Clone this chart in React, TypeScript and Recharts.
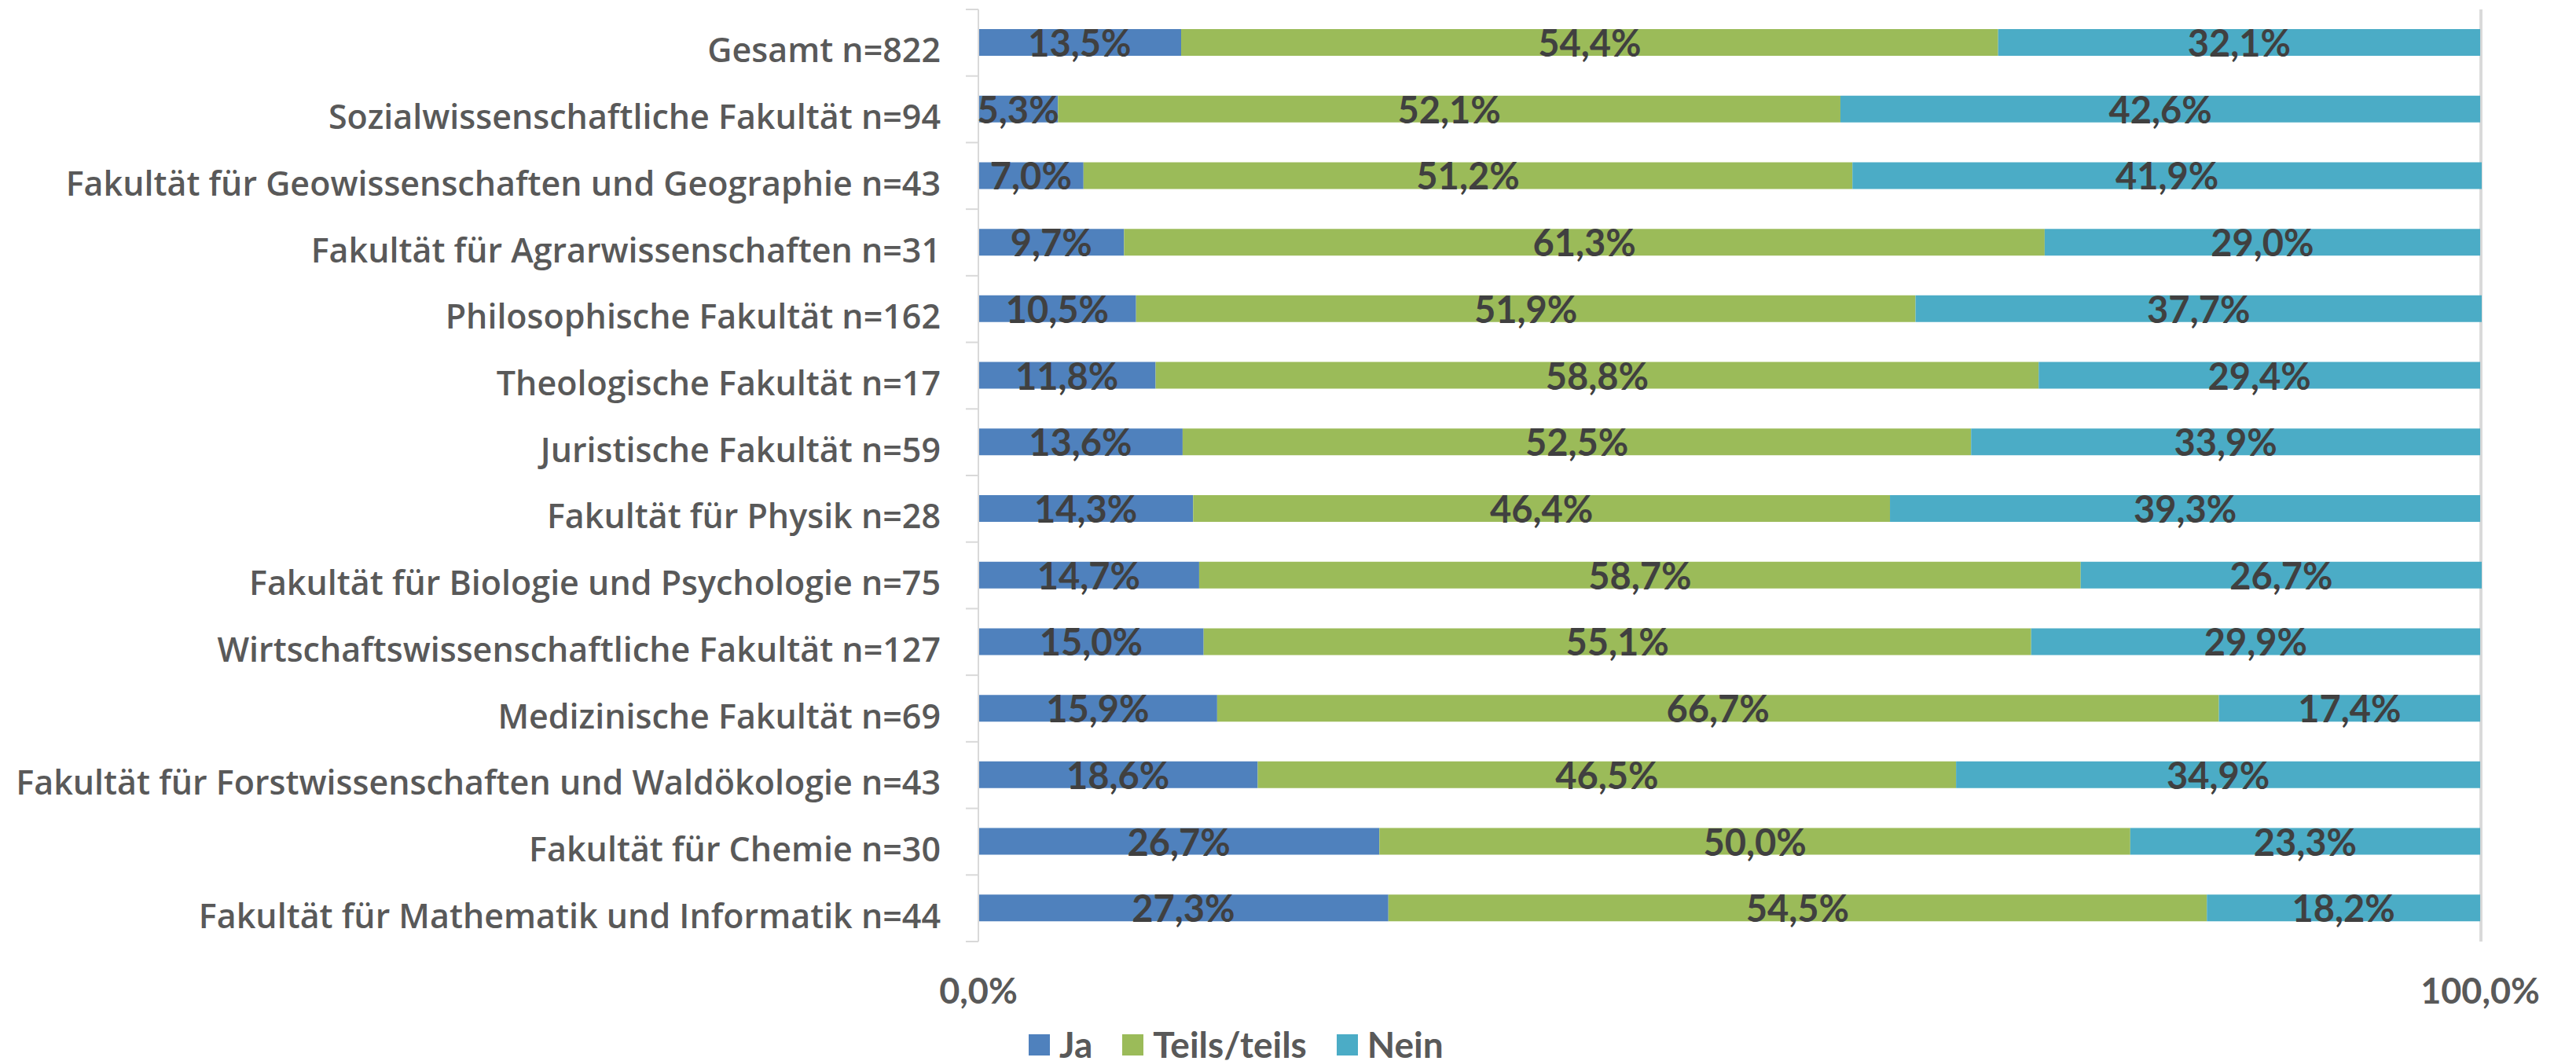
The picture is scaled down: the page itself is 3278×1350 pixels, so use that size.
import React from 'react';
import { BarChart, Bar, XAxis, YAxis, CartesianGrid, LabelList } from 'recharts';

const categories = [
  'Gesamt n=822',
  'Sozialwissenschaftliche Fakultät n=94',
  'Fakultät für Geowissenschaften und Geographie n=43',
  'Fakultät für Agrarwissenschaften n=31',
  'Philosophische Fakultät n=162',
  'Theologische Fakultät n=17',
  'Juristische Fakultät n=59',
  'Fakultät für Physik n=28',
  'Fakultät für Biologie und Psychologie n=75',
  'Wirtschaftswissenschaftliche Fakultät n=127',
  'Medizinische Fakultät n=69',
  'Fakultät für Forstwissenschaften und Waldökologie n=43',
  'Fakultät für Chemie n=30',
  'Fakultät für Mathematik und Informatik n=44',
];

const jaValues = [13.5, 5.3, 7.0, 9.7, 10.5, 11.8, 13.6, 14.3, 14.7, 15.0, 15.9, 18.6, 26.7, 27.3];
const teilsValues = [54.4, 52.1, 51.2, 61.3, 51.9, 58.8, 52.5, 46.4, 58.7, 55.1, 66.7, 46.5, 50.0, 54.5];
const neinValues = [32.1, 42.6, 41.9, 29.0, 37.7, 29.4, 33.9, 39.3, 26.7, 29.9, 17.4, 34.9, 23.3, 18.2];

const seriesKeys = ['ja', 'teils', 'nein'];
const seriesNames = ['Ja', 'Teils/teils', 'Nein'];
const seriesColors = ['#4F81BD', '#9BBB59', '#4BACC6'];
const xTicks = [0, 100];

const data = categories.map((name, i) => ({
  name,
  ja: jaValues[i],
  teils: teilsValues[i],
  nein: neinValues[i],
}));

const FONT = 'Lato, "Open Sans", sans-serif';
const CAT_FONT = '"Open Sans", Lato, sans-serif';
const CHART_W = 3270;
const CHART_H = 1342;
const MARGIN = { top: 4, right: 120, bottom: 92, left: 0 };
const Y_W = 1237;
const X_H = 60;
const PLOT_H = CHART_H - MARGIN.top - MARGIN.bottom - X_H;
const BAND = PLOT_H / categories.length;

const fmt = (v: number) => v.toFixed(1).replace('.', ',') + '%';

const CategoryTick = (props: any) => {
  const { x, y, payload, index } = props;
  const last = index === categories.length - 1;
  return (
    <g>
      <line x1={x + 32} x2={x + 48} y1={y - BAND / 2} y2={y - BAND / 2} stroke="#D9D9D9" strokeWidth={2} />
      {last && (
        <line x1={x + 32} x2={x + 48} y1={y + BAND / 2} y2={y + BAND / 2} stroke="#D9D9D9" strokeWidth={2} />
      )}
      <text x={x} y={y + 25} textAnchor="end" fill="#595959" fontFamily={CAT_FONT} fontWeight={600} fontSize={43}>
        {payload.value}
      </text>
    </g>
  );
};

const ValueLabel = (props: any) => {
  const { x, y, width, height, value } = props;
  return (
    <text
      x={x + width / 2}
      y={y + height / 2 + 18}
      textAnchor="middle"
      fill="#404040"
      fontFamily={FONT}
      fontWeight="bold"
      fontSize={47}
    >
      {fmt(value)}
    </text>
  );
};

export default function App() {
  return (
    <div style={{ position: 'relative', width: CHART_W, height: CHART_H }}>
      <BarChart
        width={CHART_W}
        height={CHART_H}
        data={data}
        layout="vertical"
        margin={MARGIN}
        barSize={34}
      >
        <CartesianGrid horizontal={false} vertical stroke="#D9D9D9" strokeWidth={2} />
        <XAxis
          type="number"
          domain={[0, 100]}
          ticks={xTicks}
          height={X_H}
          axisLine={false}
          tickLine={false}
          tickSize={0}
          tickMargin={47}
          tickFormatter={(v: number) => fmt(v)}
          tick={{ fill: '#595959', fontFamily: FONT, fontSize: 45, fontWeight: 'bold' }}
        />
        <YAxis
          type="category"
          dataKey="name"
          width={Y_W}
          axisLine={{ stroke: '#D9D9D9', strokeWidth: 2 }}
          tickLine={false}
          tickSize={16}
          tickMargin={32}
          interval={0}
          tick={<CategoryTick />}
        />
        {seriesKeys.map((k, i) => (
          <Bar key={k} dataKey={k} name={seriesNames[i]} stackId="a" fill={seriesColors[i]} isAnimationActive={false}>
            <LabelList dataKey={k} content={<ValueLabel />} />
          </Bar>
        ))}
      </BarChart>
      <div
        style={{
          position: 'absolute',
          left: 1301,
          top: 1302,
          height: 38,
          display: 'flex',
          alignItems: 'center',
          fontFamily: FONT,
          fontSize: 46,
          fontWeight: 'bold',
          color: '#595959',
          lineHeight: '38px',
          whiteSpace: 'nowrap',
        }}
      >
        {seriesNames.map((n, i) => (
          <div key={n} style={{ display: 'flex', alignItems: 'center', marginRight: 38 }}>
            <span style={{ display: 'inline-block', width: 27, height: 27, background: seriesColors[i], marginRight: 12 }} />
            <span>{n}</span>
          </div>
        ))}
      </div>
    </div>
  );
}
